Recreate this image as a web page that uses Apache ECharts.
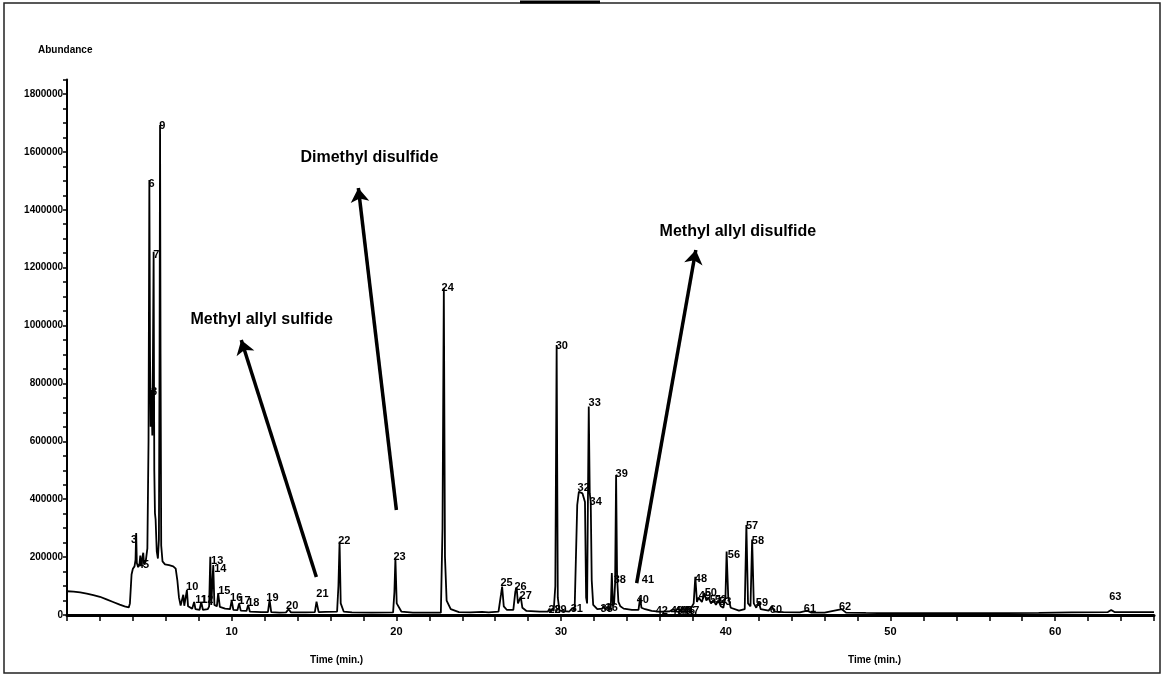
<!DOCTYPE html>
<html>
<head>
<meta charset="utf-8">
<script src="https://cdn.jsdelivr.net/npm/echarts@6/dist/echarts.min.js"></script>
<style>
html,body{margin:0;padding:0;background:#fff;}
#chart{width:1167px;height:676px;}
</style>
</head>
<body>
<div id="chart"></div>
<script>
// ---- DATA ----
// chromatogram trace: [time (min), abundance]
const chromatogram = [
[0.0,82000],[0.4,81000],[0.8,78000],[1.2,74000],[1.6,69000],[2.0,63000],[2.4,54000],[2.8,45000],[3.2,36000],[3.5,30000],[3.75,26000],
[3.82,40000],[3.92,140000],[4.0,160000],[4.1,168000],[4.16,190000],[4.2,283000],[4.24,180000],[4.32,165000],[4.4,175000],[4.45,205000],
[4.5,172000],[4.58,168000],[4.63,215000],[4.68,175000],[4.78,185000],[4.88,230000],[4.95,600000],[5.0,1503000],[5.04,900000],[5.08,650000],
[5.13,777000],[5.18,620000],[5.22,900000],[5.26,1255000],[5.3,500000],[5.34,352000],[5.38,330000],[5.45,220000],[5.52,195000],[5.58,260000],
[5.62,900000],[5.65,1693000],[5.68,900000],[5.72,240000],[5.8,185000],[5.95,175000],[6.2,172000],[6.45,168000],[6.6,160000],[6.7,120000],
[6.8,60000],[6.9,33000],[7.0,30000],[7.06,70000],[7.12,32000],[7.22,30000],[7.28,86000],[7.35,30000],[7.6,22000],[7.72,45000],[7.8,20000],
[8.05,18000],[8.15,45000],[8.25,18000],[8.55,20000],[8.63,30000],[8.7,201000],[8.76,35000],[8.83,40000],[8.88,173000],[8.95,35000],
[9.1,30000],[9.18,76000],[9.28,28000],[9.6,22000],[9.9,20000],[10.0,50000],[10.1,18000],[10.35,17000],[10.45,40000],[10.55,15000],
[10.9,14000],[11.0,35000],[11.1,12000],[11.8,10000],[12.2,10000],[12.3,52000],[12.4,10000],[12.9,8000],[13.3,9000],[13.45,20000],
[13.6,9000],[14.5,9000],[15.05,10000],[15.15,46000],[15.28,10000],[15.7,11000],[16.4,12000],[16.48,100000],[16.55,253000],[16.62,40000],
[16.8,12000],[17.3,9000],[18.5,8000],[19.8,9000],[19.88,80000],[19.94,196000],[20.02,40000],[20.3,12000],[21.0,8000],[22.7,8000],
[22.8,300000],[22.88,1130000],[22.95,200000],[23.05,50000],[23.3,20000],[23.8,10000],[24.5,9000],[25.2,11000],[25.6,9000],[26.2,12000],
[26.35,70000],[26.42,98000],[26.52,30000],[26.7,18000],[27.1,18000],[27.22,80000],[27.3,96000],[27.38,40000],[27.47,35000],[27.55,63000],
[27.65,25000],[27.9,14000],[28.7,12000],[29.2,12000],[29.3,22000],[29.38,12000],[29.47,22000],[29.55,14000],[29.65,100000],[29.73,933000],
[29.8,60000],[29.9,15000],[30.5,12000],[30.7,25000],[30.82,14000],[30.92,20000],[30.98,380000],[31.08,426000],[31.3,420000],[31.45,390000],
[31.52,60000],[31.58,40000],[31.63,400000],[31.68,720000],[31.74,420000],[31.8,391000],[31.86,120000],[31.95,35000],[32.2,20000],
[32.5,22000],[32.58,32000],[32.66,20000],[32.8,28000],[32.9,18000],[33.02,30000],[33.08,145000],[33.15,30000],[33.22,40000],[33.28,110000],
[33.34,484000],[33.4,130000],[33.48,45000],[33.6,30000],[33.8,22000],[34.3,18000],[34.7,18000],[34.8,60000],[34.88,25000],[35.1,20000],
[35.5,14000],[35.95,12000],[36.05,18000],[36.15,12000],[36.6,13000],[36.8,20000],[36.95,14000],[37.1,22000],[37.25,15000],[37.4,24000],
[37.55,16000],[37.7,26000],[37.85,20000],[38.05,40000],[38.15,132000],[38.25,45000],[38.35,60000],[38.45,62000],[38.55,45000],[38.7,76000],
[38.82,50000],[38.95,60000],[39.1,40000],[39.25,52000],[39.4,35000],[39.55,50000],[39.7,30000],[39.85,25000],[39.98,60000],[40.05,219000],
[40.15,60000],[40.3,25000],[40.8,15000],[41.15,20000],[41.25,311000],[41.35,40000],[41.5,30000],[41.6,261000],[41.7,40000],[41.85,25000],
[42.0,46000],[42.12,20000],[42.6,15000],[42.8,30000],[42.95,12000],[43.5,10000],[44.5,9000],[44.95,15000],[45.2,8000],[46.0,8000],
[47.05,20000],[47.3,8000],[48.5,7000],[50,6000],[55,6000],[59,7000],[61,9000],[63.2,10000],[63.4,17000],[63.6,10000],[66,10000]
];

// peak number labels (anchor: time, abundance)
const peakNames = ["3","4","5","6","7","8","9","10","11","12","13","14","15","16","17","18","19","20","21","22","23","24","25","26","27","28","29","30","31","32","33","34","35","36","38","39","40","41","42","43","44","45","46","47","48","49","50","51","52","53","56","57","58","59","60","61","62","63"];
const peakTimes = [3.89,4.3,4.62,4.95,5.23,5.1,5.6,7.23,7.78,8.15,8.75,8.94,9.18,9.9,10.4,10.94,12.1,13.3,15.14,16.47,19.82,22.74,26.32,27.17,27.48,29.24,29.6,29.67,30.58,31.0,31.67,31.73,32.4,32.7,33.19,33.31,34.59,34.9,35.74,36.66,36.9,37.15,37.4,37.65,38.12,38.36,38.72,39.03,39.33,39.6,40.12,41.22,41.58,41.82,42.67,44.74,46.87,63.28];
const peakHeights = [259000,172000,172000,1490000,1244000,770000,1690000,97000,52000,52000,187000,159000,83000,59000,48000,41000,59000,31000,73000,256000,200000,1130000,111000,97000,66000,17000,17000,929000,21000,439000,732000,390000,21000,24000,121000,487000,52000,121000,14000,14000,14000,14000,14000,14000,124000,66000,76000,52000,52000,45000,207000,307000,256000,41000,17000,21000,28000,62000];

// compound annotations: text position and arrow (tail -> head) in data units
const compoundNames = ["Methyl allyl sulfide","Dimethyl disulfide","Methyl allyl disulfide"];
const compoundTextTime = [11.82,18.36,40.73];
const compoundTextAbundance = [1019000,1579000,1323000];
const arrowTail = [[15.14,131000],[20.0,363000],[34.59,110000]];
const arrowHead = [[10.58,950000],[17.69,1475000],[38.18,1261000]];

// axis ticks
const xMax = 66, xStep = 2, xLabelStep = 10;
const yMax = 1850000, yStep = 50000, yLabelStep = 200000;

// ---- CHART ----
const FONT = "'Liberation Sans',Arial,sans-serif";
const chart = echarts.init(document.getElementById('chart'), null, {renderer:'canvas'});

const option = {
  animation:false,
  backgroundColor:'#fff',
  grid:{left:67, right:13, top:79.5, bottom:61, containLabel:false},
  xAxis:{
    type:'value', min:0, max:xMax, interval:xStep,
    axisLine:{show:true, lineStyle:{color:'#000', width:3}},
    axisTick:{show:true, length:6, lineStyle:{color:'#000', width:1.5}},
    axisLabel:{margin:11, color:'#000', fontFamily:FONT, fontWeight:'bold', fontSize:11,
      formatter:v => (v>0 && v % xLabelStep === 0) ? String(v) : ''},
    splitLine:{show:false}
  },
  yAxis:{
    type:'value', min:0, max:yMax, interval:yStep,
    axisLine:{show:true, lineStyle:{color:'#000', width:2}},
    axisTick:{show:true, length:4, lineStyle:{color:'#000', width:1.5}},
    axisLabel:{margin:4, color:'#000', fontFamily:FONT, fontWeight:'bold', fontSize:10,
      formatter:v => (v % yLabelStep === 0) ? String(v) : ''},
    splitLine:{show:false}
  },
  series:[
    {
      type:'line', name:'TIC', data:chromatogram, showSymbol:false, symbol:'none',
      lineStyle:{color:'#000', width:1.8}, silent:true, z:3,
      markLine:{
        silent:true, symbol:['none','arrow'], symbolSize:14,
        lineStyle:{color:'#000', width:3.5, type:'solid'},
        label:{show:false},
        data: arrowTail.map((t,i) => [{coord:t}, {coord:arrowHead[i]}])
      }
    },
    {
      type:'scatter', name:'peaks', symbolSize:0, silent:true, z:4,
      itemStyle:{opacity:1, color:'#000'},
      data: peakTimes.map((t,i) => ({value:[t, peakHeights[i]], name:peakNames[i]})),
      label:{show:true, position:'right', distance:0, formatter:p => p.name, opacity:1,
        color:'#000', fontFamily:FONT, fontWeight:'bold', fontSize:11}
    },
    {
      type:'scatter', name:'compounds', symbolSize:0, silent:true, z:5,
      itemStyle:{opacity:1, color:'#000'},
      data: compoundTextTime.map((t,i) => ({value:[t, compoundTextAbundance[i]], name:compoundNames[i]})),
      label:{show:true, position:'inside', formatter:p => p.name, opacity:1,
        color:'#000', fontFamily:FONT, fontWeight:'bold', fontSize:16}
    }
  ],
  graphic:[
    {type:'rect', shape:{x:4, y:3, width:1156, height:670}, style:{fill:'none', stroke:'#222', lineWidth:1.5}, silent:true},
    {type:'line', shape:{x1:520, y1:2, x2:600, y2:2}, style:{stroke:'#000', lineWidth:3}, silent:true},
    {type:'text', left:38, top:45, style:{text:'Abundance', font:"bold 10px "+FONT, fill:'#000'}},
    {type:'text', left:310, top:655, style:{text:'Time (min.)', font:"bold 10px "+FONT, fill:'#000'}},
    {type:'text', left:848, top:655, style:{text:'Time (min.)', font:"bold 10px "+FONT, fill:'#000'}}
  ]
};
chart.setOption(option);
</script>
</body>
</html>
